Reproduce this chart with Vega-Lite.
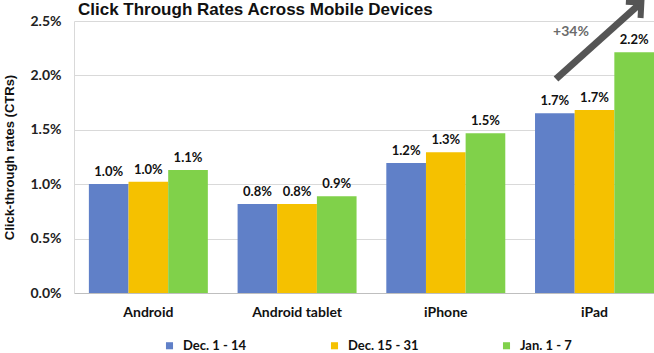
{
  "$schema": "https://vega.github.io/schema/vega-lite/v6.json",
  "width": 580,
  "height": 272,
  "autosize": "none",
  "padding": {"left": 74, "top": 21, "right": 0, "bottom": 60},
  "background": "white",
  "title": {
    "text": "Click Through Rates Across Mobile Devices",
    "anchor": "start",
    "frame": "group",
    "dx": 4,
    "offset": -42,
    "baseline": "alphabetic",
    "font": "Liberation Sans",
    "fontSize": 17,
    "fontWeight": "bold",
    "color": "#111111"
  },
  "config": {"view": {"stroke": null}, "font": "Lato"},
  "resolve": {"scale": {"x": "independent"}},
  "layer": [
    {
      "data": {
        "values": [
          {"device": "Android", "period": "Dec. 1 - 14", "ctr": 0.01002},
          {"device": "Android", "period": "Dec. 15 - 31", "ctr": 0.01023},
          {"device": "Android", "period": "Jan. 1 - 7", "ctr": 0.0113},
          {"device": "Android tablet", "period": "Dec. 1 - 14", "ctr": 0.00818},
          {"device": "Android tablet", "period": "Dec. 15 - 31", "ctr": 0.00818},
          {"device": "Android tablet", "period": "Jan. 1 - 7", "ctr": 0.0089},
          {"device": "iPhone", "period": "Dec. 1 - 14", "ctr": 0.01195},
          {"device": "iPhone", "period": "Dec. 15 - 31", "ctr": 0.01293},
          {"device": "iPhone", "period": "Jan. 1 - 7", "ctr": 0.01468},
          {"device": "iPad", "period": "Dec. 1 - 14", "ctr": 0.01651},
          {"device": "iPad", "period": "Dec. 15 - 31", "ctr": 0.01682},
          {"device": "iPad", "period": "Jan. 1 - 7", "ctr": 0.02212}
        ]
      },
      "encoding": {
        "x": {
          "field": "device",
          "type": "nominal",
          "sort": ["Android", "Android tablet", "iPhone", "iPad"],
          "scale": {"paddingInner": 0.2, "paddingOuter": 0.05, "align": 1},
          "axis": {
            "title": null,
            "labelAngle": 0,
            "labelFont": "Lato",
            "labelFontSize": 14,
            "labelFontWeight": "bold",
            "labelColor": "#111111",
            "labelPadding": 12,
            "ticks": false,
            "domainColor": "#bfbfbf"
          }
        },
        "xOffset": {
          "field": "period",
          "type": "nominal",
          "sort": ["Dec. 1 - 14", "Dec. 15 - 31", "Jan. 1 - 7"],
          "scale": {"paddingInner": 0, "paddingOuter": 0}
        },
        "y": {
          "field": "ctr",
          "type": "quantitative",
          "title": "Click-through rates (CTRs)",
          "scale": {"domain": [0, 0.025], "nice": false},
          "axis": {
            "values": [0, 0.005, 0.01, 0.015, 0.02, 0.025],
            "format": ".1%",
            "labelFont": "Lato",
            "labelFontSize": 14,
            "labelFontWeight": "bold",
            "labelColor": "#222222",
            "labelPadding": 13,
            "ticks": false,
            "domainColor": "#d9d9d9",
            "gridColor": "#d9d9d9",
            "titleFont": "Liberation Sans",
            "titleFontSize": 13,
            "titleFontWeight": "bold",
            "titleColor": "#111111",
            "titlePadding": 13
          }
        }
      },
      "layer": [
        {
          "mark": {"type": "bar"},
          "encoding": {
            "color": {
              "field": "period",
              "type": "nominal",
              "sort": ["Dec. 1 - 14", "Dec. 15 - 31", "Jan. 1 - 7"],
              "scale": {
                "domain": ["Dec. 1 - 14", "Dec. 15 - 31", "Jan. 1 - 7"],
                "range": ["#6080C8", "#F5C100", "#80D14A"]
              },
              "legend": {
                "orient": "none",
                "legendX": 89,
                "legendY": 318,
                "direction": "horizontal",
                "title": null,
                "symbolType": "square",
                "symbolSize": 50,
                "symbolStrokeWidth": 0,
                "labelFont": "Lato",
                "labelFontSize": 13,
                "labelFontWeight": "bold",
                "labelColor": "#111111",
                "columnPadding": 81,
                "labelOffset": 7
              }
            }
          }
        },
        {
          "mark": {"type": "text", "baseline": "bottom", "dy": -5, "font": "Lato", "fontSize": 13, "fontWeight": "bold", "color": "#111111"},
          "encoding": {
            "text": {"field": "ctr", "type": "quantitative", "format": ".1%"}
          }
        }
      ]
    },
    {
      "data": {"values": [{"xa": 2.741, "ya": 0.01967, "xb": 3.315, "yb": 0.0267, "lx": 2.842, "ly": 0.02399, "label": "+34%"}]},
      "encoding": {
        "x": {"field": "xa", "type": "quantitative", "scale": {"domain": [-0.5, 3.4], "nice": false, "zero": false}, "axis": null},
        "y": {"field": "ya", "type": "quantitative", "title": "Click-through rates (CTRs)"}
      },
      "layer": [
        {
          "mark": {"type": "rule", "color": "#555555", "strokeWidth": 7},
          "encoding": {
            "x2": {"field": "xb"},
            "y2": {"field": "yb"}
          }
        },
        {
          "mark": {"type": "point", "shape": "M-1,1L0,0L1,1", "filled": false, "stroke": "#555555", "strokeWidth": 6, "strokeJoin": "miter", "size": 480, "angle": 48, "opacity": 1},
          "encoding": {
            "x": {"field": "xb", "type": "quantitative"},
            "y": {"field": "yb", "type": "quantitative"}
          }
        },
        {
          "mark": {"type": "text", "font": "Lato", "fontSize": 14, "fontWeight": "bold", "color": "#6b6b6b", "baseline": "middle"},
          "encoding": {
            "x": {"field": "lx", "type": "quantitative"},
            "y": {"field": "ly", "type": "quantitative"},
            "text": {"field": "label"}
          }
        }
      ]
    }
  ]
}
